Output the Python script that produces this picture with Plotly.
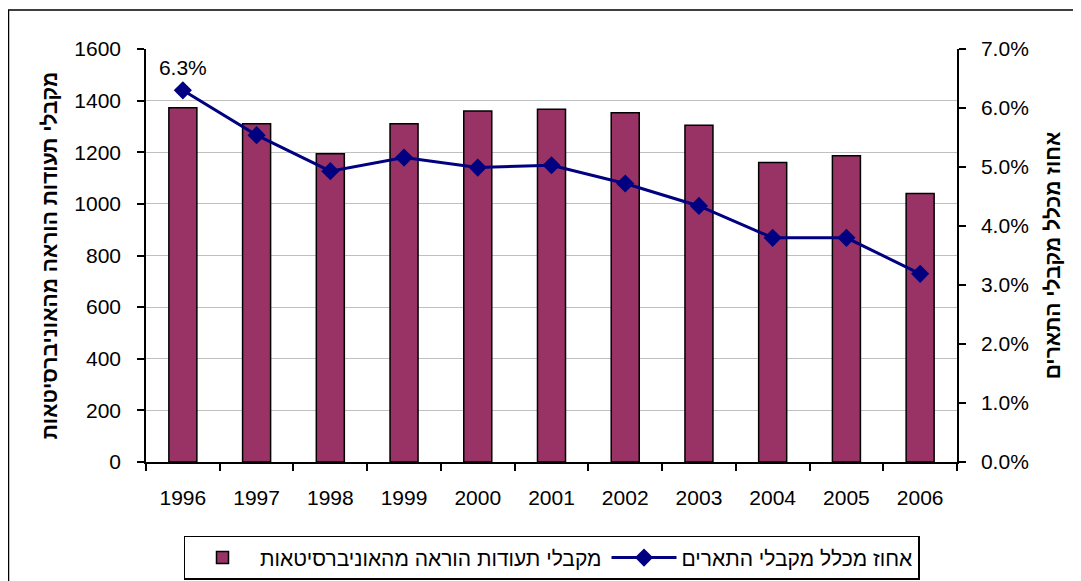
import plotly.graph_objects as go

years = ["1996", "1997", "1998", "1999", "2000", "2001", "2002", "2003", "2004", "2005", "2006"]
certificates = [1372, 1310, 1194, 1310, 1360, 1367, 1353, 1305, 1160, 1186, 1040]
share_pct = [0.0630, 0.0554, 0.0493, 0.0516, 0.0499, 0.0503, 0.0472, 0.0434, 0.0380, 0.0380, 0.0319]
share_labels = ["6.3%", "", "", "", "", "", "", "", "", "", ""]

bar_name = "מקבלי תעודות הוראה מהאוניברסיטאות"
line_name = "אחוז מכלל מקבלי התארים"
left_title = "מקבלי תעודות הוראה מהאוניברסיטאות"
right_title = "אחוז מכלל מקבלי התארים"

FONT = "Liberation Sans, Arial, sans-serif"
FS = 21

fig = go.Figure()
fig.add_trace(go.Bar(
    x=years, y=certificates, name=bar_name,
    marker=dict(color="#993366", line=dict(color="black", width=1.5)),
    yaxis="y", legendrank=1,
))
fig.add_trace(go.Scatter(
    x=years, y=share_pct, name=line_name, yaxis="y2",
    mode="lines+markers+text", text=share_labels, textposition="top center",
    textfont=dict(size=FS, color="black", family=FONT),
    line=dict(color="#000080", width=3),
    marker=dict(symbol="diamond", size=14, color="#000080"),
    legendrank=2, cliponaxis=False,
))

fig.update_layout(
    width=1073, height=573,
    margin=dict(l=138, r=124, t=41, b=119, autoexpand=False),
    paper_bgcolor="white", plot_bgcolor="white",
    font=dict(family=FONT, size=FS, color="black"),
    bargap=0.62,
    showlegend=True,
    legend=dict(orientation="h", x=0.5, xanchor="center", y=-0.179, yanchor="top",
                bordercolor="black", borderwidth=1.5, font=dict(size=FS),
                traceorder="normal", itemwidth=65),
    xaxis=dict(type="category", range=[-0.5, 10.5], showline=True, linecolor="black",
               linewidth=1.5, ticks="outside", ticklen=7, tickwidth=1.5, tickcolor="black",
               tickson="boundaries", ticklabelstandoff=16, showgrid=False,
               tickfont=dict(size=FS)),
    yaxis=dict(range=[0, 1600], dtick=200, showline=True, linecolor="black", linewidth=1.5,
               ticks="outside", ticklen=7, tickwidth=1.5, tickcolor="black",
               ticklabelstandoff=12, showgrid=True, gridcolor="#c0c0c0", gridwidth=1,
               zeroline=False, tickfont=dict(size=FS),
               title=dict(text=left_title, font=dict(size=FS, family=FONT, weight="bold"), standoff=11)),
    yaxis2=dict(range=[0, 0.07], dtick=0.01, tickformat=".1%", overlaying="y", side="right",
                showline=True, linecolor="black", linewidth=1.5, ticks="outside", ticklen=7,
                tickwidth=1.5, tickcolor="black", ticklabelstandoff=11, showgrid=False,
                zeroline=False, tickfont=dict(size=FS),
                title=dict(text=right_title, font=dict(size=FS, family=FONT, weight="bold"), standoff=17)),
    shapes=[dict(type="rect", xref="paper", yref="paper",
                 x0=(8.5 - 146) / 811, x1=1.3, y0=-0.5, y1=(462 - 10) / 413,
                 line=dict(color="black", width=1.5), fillcolor="rgba(0,0,0,0)", layer="below")],
)

fig.write_html("out.html")
